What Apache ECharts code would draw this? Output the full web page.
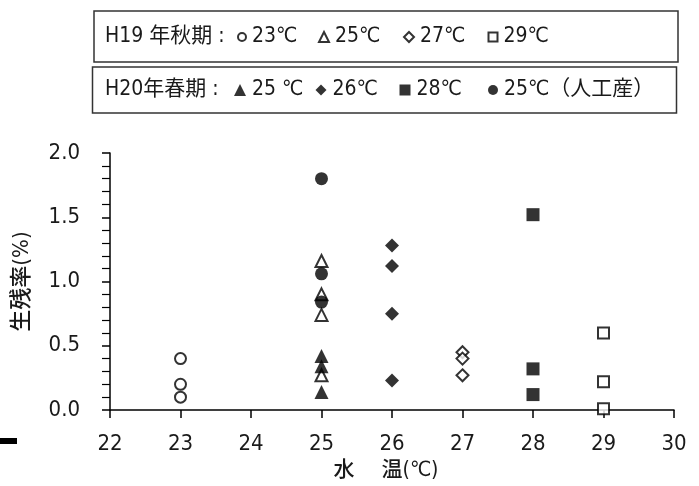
<!DOCTYPE html>
<html>
<head>
<meta charset="utf-8">
<script src="https://cdn.jsdelivr.net/npm/echarts@6/dist/echarts.min.js"></script>
<style>
  html, body { margin: 0; padding: 0; background: #fff; }
  #chart { width: 699px; height: 486px; }
</style>
</head>
<body>
<div id="chart"></div>
<script>
// Survival rate (%) by water temperature (°C), two rearing seasons
const xTicks = [22, 23, 24, 25, 26, 27, 28, 29, 30];
const yTicks = [0.0, 0.5, 1.0, 1.5, 2.0];

const seasonLabels = ['H19 年秋期 :', 'H20年春期 :'];

// H19 autumn (open markers)
const h19_23 = [0.40, 0.20, 0.10];
const h19_25 = [1.16, 0.90, 0.74, 0.27];
const h19_27 = [0.45, 0.40, 0.27];
const h19_29 = [0.60, 0.22, 0.01];

// H20 spring (filled markers)
const h20_25 = [0.42, 0.34, 0.14];
const h20_26 = [1.28, 1.12, 0.75, 0.23];
const h20_28 = [1.52, 0.32, 0.12];
const h20_25art = [1.80, 1.06, 0.84];

const FONT = "'Liberation Sans Narrow', 'DejaVu Sans Condensed', 'Noto Sans CJK JP', sans-serif";
const INK = '#1a1a1a';

// series definitions: id, legend text, temperature, values, symbol, filled?, row
const seriesDefs = [
  { id: 'h19-23', label: '23℃', t: 23, v: h19_23, sym: 'circle',   filled: false, row: 0 },
  { id: 'h19-25', label: '25℃', t: 25, v: h19_25, sym: 'triangle', filled: false, row: 0 },
  { id: 'h19-27', label: '27℃', t: 27, v: h19_27, sym: 'diamond',  filled: false, row: 0 },
  { id: 'h19-29', label: '29℃', t: 29, v: h19_29, sym: 'rect',     filled: false, row: 0 },
  { id: 'h20-25', label: '25 ℃', t: 25, v: h20_25, sym: 'triangle', filled: true, row: 1 },
  { id: 'h20-26', label: '26℃', t: 26, v: h20_26, sym: 'diamond',  filled: true, row: 1 },
  { id: 'h20-28', label: '28℃', t: 28, v: h20_28, sym: 'rect',     filled: true, row: 1 },
  { id: 'h20-25a', label: '25℃（人工産）', t: 25, v: h20_25art, sym: 'circle', filled: true, row: 1 }
];

// legend layout: icon centre x per item, row centre y
const legendIconX = [241, 323, 408, 492, 240, 321, 405, 493];
const legendIconSize = [8, 10, 10, 9, 12, 11, 11, 10];
const rowY = [37, 90];

const chartSymbolSize = { circle: 11, triangle: 12, diamond: 12, rect: 11 };

const series = seriesDefs.map(d => ({
  name: d.id,
  type: 'scatter',
  data: d.v.map(y => [d.t, y]),
  symbol: d.sym,
  symbolSize: d.filled ? chartSymbolSize[d.sym] + 2 : chartSymbolSize[d.sym],
  itemStyle: d.filled
    ? { color: '#000', borderWidth: 0 }
    : { color: '#fff', borderColor: '#000', borderWidth: 2 },
  emphasis: { disabled: true },
  animation: false
}));

const legends = seriesDefs.map((d, i) => ({
  data: [d.id],
  left: legendIconX[i] - legendIconSize[i] / 2,
  top: rowY[d.row] - 11,
  padding: 0,
  itemWidth: legendIconSize[i],
  itemHeight: legendIconSize[i],
  itemGap: 0,
  selectedMode: false,
  formatter: () => d.label,
  textStyle: { fontFamily: FONT, fontSize: 21, color: INK, lineHeight: 22, padding: [0, 0, 0, 1] }
}));

const chart = echarts.init(document.getElementById('chart'), null, { renderer: 'canvas' });
chart.setOption({
  backgroundColor: '#fff',
  animation: false,
  grid: { left: 110, right: 25, top: 153, bottom: 75 },
  legend: legends,
  xAxis: {
    type: 'value',
    min: xTicks[0],
    max: xTicks[xTicks.length - 1],
    interval: 1,
    name: '水　 温(℃)',
    nameLocation: 'middle',
    nameGap: 50,
    nameTextStyle: { fontFamily: FONT, fontSize: 21, fontWeight: 500, color: INK, padding: [0, 12, 0, 0] },
    axisLine: { show: true, lineStyle: { color: '#000', width: 1.5 } },
    axisTick: { show: true, length: 8, lineStyle: { color: '#000', width: 1.5 } },
    axisLabel: { margin: 23, fontFamily: FONT, fontSize: 22, color: INK },
    splitLine: { show: false }
  },
  yAxis: {
    type: 'value',
    min: yTicks[0],
    max: yTicks[yTicks.length - 1],
    interval: 0.5,
    name: '生残率(%)',
    nameLocation: 'middle',
    nameRotate: 90,
    nameGap: 77,
    nameTextStyle: { fontFamily: FONT, fontSize: 22, fontWeight: 500, color: INK },
    axisLine: { show: true, lineStyle: { color: '#000', width: 1.5 } },
    axisTick: { show: true, length: 8, lineStyle: { color: '#000', width: 1.5 } },
    minorTick: { show: true, splitNumber: 5, length: 8, lineStyle: { color: '#000', width: 1.2 } },
    axisLabel: { margin: 30, fontFamily: FONT, fontSize: 22, color: INK, formatter: v => v.toFixed(1) },
    splitLine: { show: false }
  },
  graphic: [
    { type: 'rect', shape: { x: 94, y: 11, width: 584, height: 51 },
      style: { fill: 'none', stroke: '#333', lineWidth: 1.5 } },
    { type: 'rect', shape: { x: 92.5, y: 67, width: 584, height: 46 },
      style: { fill: 'none', stroke: '#333', lineWidth: 1.5 } },
    { type: 'text', x: 105, y: rowY[0],
      style: { text: seasonLabels[0], font: '21px ' + FONT, fill: INK, verticalAlign: 'middle' } },
    { type: 'text', x: 105, y: rowY[1],
      style: { text: seasonLabels[1], font: '21px ' + FONT, fill: INK, verticalAlign: 'middle' } },
    { type: 'rect', shape: { x: 0, y: 438, width: 17, height: 6 }, style: { fill: '#000' } }
  ],
  series: series
});
</script>
</body>
</html>
